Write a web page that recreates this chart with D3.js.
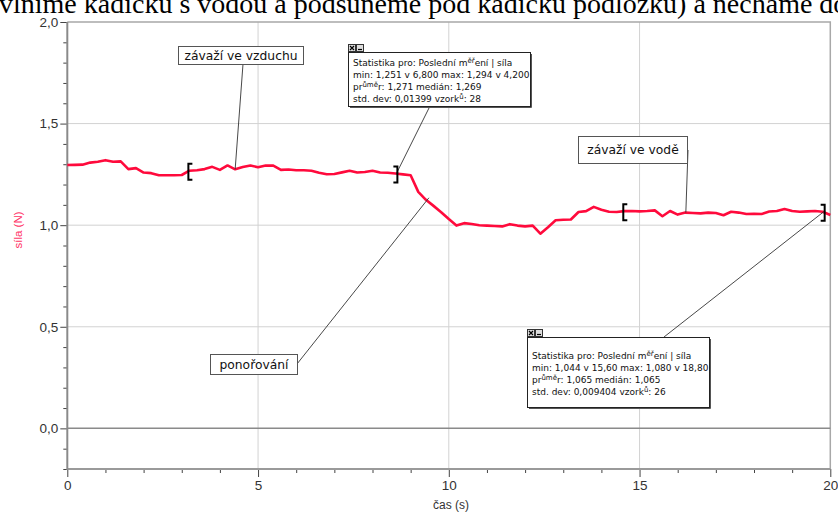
<!DOCTYPE html>
<html><head><meta charset="utf-8">
<script src="https://cdn.jsdelivr.net/npm/d3@7"></script>
<style>body{margin:0;background:#fff}svg{display:block}</style>
</head><body>
<script>
// ---- data ----
const timeS = [0,0.2,0.4,0.6,0.8,1,1.2,1.4,1.6,1.8,2,2.2,2.4,2.6,2.8,3,3.2,3.4,3.6,3.8,4,4.2,4.4,4.6,4.8,5,5.2,5.4,5.6,5.8,6,6.2,6.4,6.6,6.8,7,7.2,7.4,7.6,7.8,8,8.2,8.4,8.6,8.8,9,9.2,9.4,9.6,9.8,10,10.2,10.4,10.6,10.8,11,11.2,11.4,11.6,11.8,12,12.2,12.4,12.6,12.8,13,13.2,13.4,13.6,13.8,14,14.2,14.4,14.6,14.8,15,15.2,15.4,15.6,15.8,16,16.2,16.4,16.6,16.8,17,17.2,17.4,17.6,17.8,18,18.2,18.4,18.6,18.8,19,19.2,19.4,19.6,19.8,20];
const silaN = [1.296,1.297,1.298,1.308,1.312,1.320,1.312,1.314,1.276,1.281,1.259,1.256,1.246,1.246,1.246,1.247,1.268,1.270,1.276,1.287,1.272,1.294,1.275,1.286,1.294,1.285,1.294,1.293,1.272,1.274,1.270,1.270,1.268,1.258,1.251,1.252,1.260,1.268,1.259,1.262,1.268,1.259,1.258,1.254,1.250,1.246,1.164,1.125,1.095,1.064,1.030,0.998,1.010,1.006,1.000,0.998,0.996,0.994,1.005,0.998,0.994,0.998,0.958,0.990,1.024,1.027,1.028,1.065,1.069,1.090,1.076,1.066,1.065,1.069,1.070,1.068,1.070,1.073,1.044,1.070,1.052,1.062,1.060,1.058,1.062,1.060,1.049,1.066,1.062,1.055,1.056,1.055,1.067,1.070,1.080,1.070,1.066,1.068,1.070,1.066,1.050];
const xMajorTicks = [0,5,10,15,20];
const xMinorTicks = [1,2,3,4,6,7,8,9,11,12,13,14,16,17,18,19];
const yMajorTicks = [0,0.5,1.0,1.5,2.0];
const yMinorTicks = [-0.2,-0.1,0.1,0.2,0.3,0.4,0.6,0.7,0.8,0.9,1.1,1.2,1.3,1.4,1.6,1.7,1.8,1.9];
const xGrid = [5,10,15];
const yGrid = [0.5,1.0,1.5];
const xTitle = "čas (s)";
const yTitle = "síla (N)";
const topText = "vlníme kádičku s vodou a podsuneme pod kádičku podložku) a necháme dob";
const bracketRanges = [[3.2,8.6],[14.6,19.8]];
const stats1 = [
  [["Statistika pro: Poslední m"],["ěř",1],["ení | síla"]],
  [["min: 1,251 v 6,800 max: 1,294 v 4,200"]],
  [["pr"],["ůmě",1],["r: 1,271 medián: 1,269"]],
  [["std. dev: 0,01399 vzork"],["ů",1],[": 28"]]
];
const stats2 = [
  [["Statistika pro: Poslední m"],["ěř",1],["ení | síla"]],
  [["min: 1,044 v 15,60 max: 1,080 v 18,80"]],
  [["pr"],["ůmě",1],["r: 1,065 medián: 1,065"]],
  [["std. dev: 0,009404 vzork"],["ů",1],[": 26"]]
];

// ---- chart ----
const W = 838, H = 514;
const svg = d3.select("body").append("svg").attr("width", W).attr("height", H);
const x = d3.scaleLinear().domain([0, 20]).range([67.3, 830.3]);
const y = d3.scaleLinear().domain([-0.2, 2.0]).range([469, 22]);
const AX = "Liberation Sans, Arial, sans-serif";
const LB = "DejaVu Sans, Verdana, sans-serif";

// top text (cut)
svg.append("text").attr("x", -1).attr("y", 13)
  .attr("font-family", "Liberation Serif, Times New Roman, serif")
  .attr("font-size", 28).attr("fill", "#000").text(topText);

// grid
svg.selectAll(".gx").data(xGrid).join("line")
  .attr("x1", d => x(d)).attr("x2", d => x(d)).attr("y1", y(2)).attr("y2", y(-0.2))
  .attr("stroke", "#d2d2d2").attr("stroke-width", 1);
svg.selectAll(".gy").data(yGrid).join("line")
  .attr("x1", x(0)).attr("x2", x(20)).attr("y1", d => y(d)).attr("y2", d => y(d))
  .attr("stroke", "#d2d2d2").attr("stroke-width", 1);
// frame
svg.append("path").attr("d", `M${x(0)},${y(2)}H${x(20)}V${y(-0.2)}`)
  .attr("fill", "none").attr("stroke", "#a8a8a8").attr("stroke-width", 1.5);
// zero line
svg.append("line").attr("x1", x(0)).attr("x2", x(20)).attr("y1", y(0)).attr("y2", y(0))
  .attr("stroke", "#8a8a8a").attr("stroke-width", 1.5);

// axes
const fmt = d => d3.format(".1f")(d).replace(".", ",").replace("-0,0", "0,0");
const gyMinor = svg.append("g").attr("transform", `translate(${x(0)},0)`)
  .call(d3.axisLeft(y).tickValues(yMinorTicks).tickSize(4).tickFormat(""));
const gy = svg.append("g").attr("transform", `translate(${x(0)},0)`)
  .call(d3.axisLeft(y).tickValues(yMajorTicks).tickSize(7).tickPadding(2).tickFormat(fmt));
const gxMinor = svg.append("g").attr("transform", `translate(0,${y(-0.2)})`)
  .call(d3.axisBottom(x).tickValues(xMinorTicks).tickSize(4).tickFormat(""));
const gx = svg.append("g").attr("transform", `translate(0,${y(-0.2)})`)
  .call(d3.axisBottom(x).tickValues(xMajorTicks).tickSize(8).tickPadding(3).tickFormat(d3.format("d")));
[gyMinor, gy, gxMinor, gx].forEach(g => {
  g.select(".domain").remove();
  g.selectAll(".tick line").attr("stroke", "#444").attr("stroke-width", 1);
  g.selectAll("text").attr("font-family", AX).attr("font-size", 13.5).attr("fill", "#333");
});
svg.append("line").attr("x1", x(0)).attr("x2", x(20)).attr("y1", y(-0.2)).attr("y2", y(-0.2))
  .attr("stroke", "#9a9a9a").attr("stroke-width", 2);
svg.append("line").attr("x1", x(0)).attr("x2", x(0)).attr("y1", y(2)).attr("y2", y(-0.2) + 1)
  .attr("stroke", "#8a8a8a").attr("stroke-width", 2);

// titles
svg.append("text").attr("x", 433).attr("y", 509).attr("font-family", AX).attr("font-size", 12)
  .attr("fill", "#333").text(xTitle);
svg.append("text").attr("transform", "translate(22,230) rotate(-90)").attr("text-anchor", "middle")
  .attr("font-family", AX).attr("font-size", 11.5).attr("fill", "#ff3366").text(yTitle);

// data line
const data = timeS.map((t, i) => ({t, v: silaN[i]}));
svg.append("path").datum(data)
  .attr("d", d3.line().x(d => x(d.t)).y(d => y(d.v)))
  .attr("fill", "none").attr("stroke", "#ff0a3c").attr("stroke-width", 2.6)
  .attr("stroke-linejoin", "round");

const valAt = t => silaN[timeS.findIndex(s => Math.abs(s - t) < 1e-6)];

// leader lines
function leader(x1, y1, x2, y2) {
  svg.append("line").attr("x1", x1).attr("y1", y1).attr("x2", x2).attr("y2", y2)
    .attr("stroke", "#333").attr("stroke-width", 0.9);
}
leader(243, 64, x(4.4), y(valAt(4.4)));
leader(430, 106, x(8.6) + 1, y(valAt(8.6)));
leader(297, 364, x(9.4) + 3, y(valAt(9.4)) - 2);
leader(688, 150, x(16.2) + 0.5, y(valAt(16.2)));
leader(664, 337, x(19.8) + 1, y(valAt(19.8)));

// brackets
bracketRanges.forEach(([a, b]) => {
  const ya = y(valAt(a)) + 1, yb = y(valAt(b)) + 1;
  svg.append("path").attr("d", `M${x(a) + 3},${ya - 8}H${x(a) - 1}V${ya + 8}H${x(a) + 3}`)
    .attr("fill", "none").attr("stroke", "#000").attr("stroke-width", 2);
  svg.append("path").attr("d", `M${x(b) - 2},${yb - 8}H${x(b) + 2}V${yb + 8}H${x(b) - 2}`)
    .attr("fill", "none").attr("stroke", "#000").attr("stroke-width", 2);
});

// label boxes
function labelBox(x0, y0, w, h, txt) {
  svg.append("rect").attr("x", x0 + 0.5).attr("y", y0 + 0.5).attr("width", w).attr("height", h)
    .attr("fill", "#fff").attr("stroke", "#555").attr("stroke-width", 1);
  svg.append("text").attr("x", x0 + w / 2 + 0.5).attr("y", y0 + h / 2 + 4.5).attr("text-anchor", "middle")
    .attr("font-family", LB).attr("font-size", 12.3).attr("fill", "#111").text(txt);
}
labelBox(178, 46, 125, 18, "závaží ve vzduchu");
labelBox(578, 136, 109, 27, "závaží ve vodě");
labelBox(210, 354, 87, 20, "ponořování");

// stats boxes
function statsBox(x0, y0, w, h, firstBase, lines) {
  svg.append("rect").attr("x", x0 + 0.5).attr("y", y0 + 0.5).attr("width", w).attr("height", h)
    .attr("fill", "#fff").attr("stroke", "#222").attr("stroke-width", 1);
  svg.append("path").attr("d", `M${x0 + 2},${y0 + h + 1.5}H${x0 + w + 1.5}V${y0 + 2}`)
    .attr("fill", "none").attr("stroke", "#555").attr("stroke-width", 1);
  // icons
  [0, 8].forEach((dx, k) => {
    svg.append("rect").attr("x", x0 + dx + 0.5).attr("y", y0 - 7.5).attr("width", 7).attr("height", 7)
      .attr("fill", "#ddd").attr("stroke", "#333").attr("stroke-width", 1);
    if (k === 0) svg.append("path").attr("d", `M${x0 + 2},${y0 - 6}L${x0 + 6},${y0 - 2}M${x0 + 6},${y0 - 6}L${x0 + 2},${y0 - 2}`)
      .attr("stroke", "#000").attr("stroke-width", 1.2);
    else svg.append("path").attr("d", `M${x0 + 10},${y0 - 2.5}H${x0 + 14}`).attr("stroke", "#000").attr("stroke-width", 1.2);
  });
  lines.forEach((segs, i) => {
    const t = svg.append("text").attr("x", x0 + 5).attr("y", y0 + firstBase + i * 12)
      .attr("font-family", LB).attr("font-size", 9).attr("fill", "#111");
    let raised = false;
    segs.forEach(([s, sup]) => {
      const ts = t.append("tspan").text(s);
      if (sup) { ts.attr("font-size", 7).attr("dy", -3); raised = true; }
      else if (raised) { ts.attr("dy", 3); raised = false; }
    });
  });
}
statsBox(348, 52, 182, 54, 14, stats1);
statsBox(527, 337, 182, 70, 22, stats2);
</script>
</body></html>
